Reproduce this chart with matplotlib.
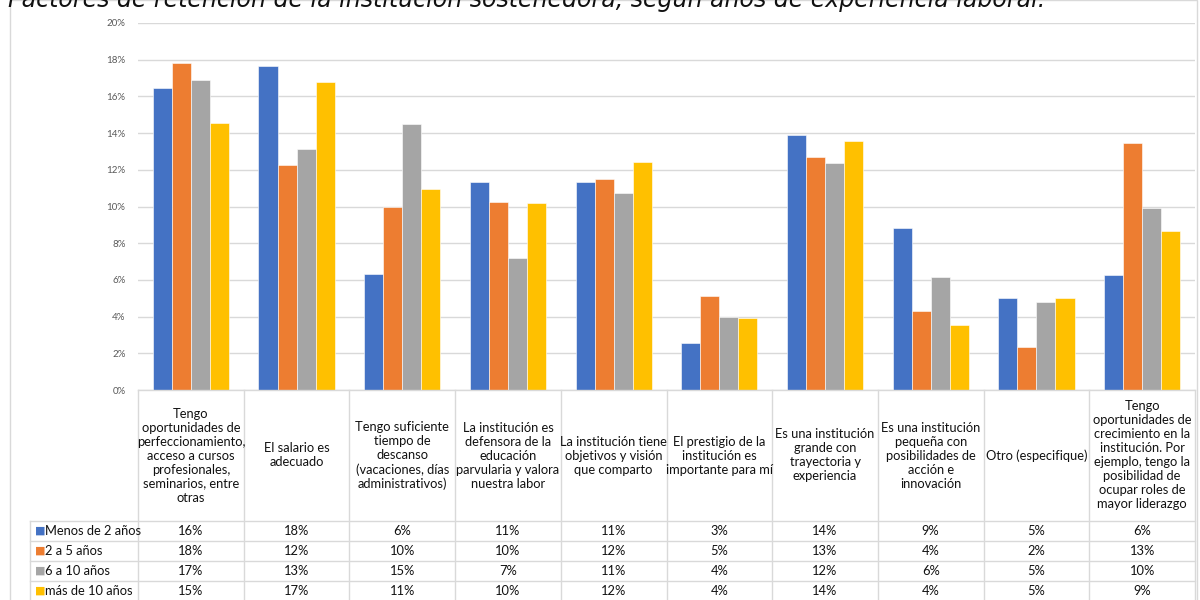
import matplotlib
matplotlib.use("Agg")
import matplotlib.pyplot as plt
from matplotlib.lines import Line2D
from matplotlib.patches import Rectangle
from matplotlib.ticker import FuncFormatter
from matplotlib.transforms import blended_transform_factory
import numpy as np

categories = [
    "Tengo\noportunidades de\nperfeccionamiento,\nacceso a cursos\nprofesionales,\nseminarios, entre\notras",
    "El salario es\nadecuado",
    "Tengo suficiente\ntiempo de\ndescanso\n(vacaciones, días\nadministrativos)",
    "La institución es\ndefensora de la\neducación\nparvularia y valora\nnuestra labor",
    "La institución tiene\nobjetivos y visión\nque comparto",
    "El prestigio de la\ninstitución es\nimportante para mí",
    "Es una institución\ngrande con\ntrayectoria y\nexperiencia",
    "Es una institución\npequeña con\nposibilidades de\nacción e\ninnovación",
    "Otro (especifique)",
    "Tengo\noportunidades de\ncrecimiento en la\ninstitución. Por\nejemplo, tengo la\nposibilidad de\nocupar roles de\nmayor liderazgo",
]
series_names = ["Menos de 2 años", "2 a 5 años", "6 a 10 años", "más de 10 años"]
menos_2 = [16.45, 17.67, 6.30, 11.35, 11.35, 2.55, 13.90, 8.84, 4.99, 6.27]
de_2_a_5 = [17.80, 12.28, 9.96, 10.25, 11.50, 5.12, 12.68, 4.30, 2.35, 13.48]
de_6_a_10 = [16.92, 13.15, 14.52, 7.20, 10.72, 3.97, 12.35, 6.14, 4.77, 9.93]
mas_10 = [14.55, 16.81, 10.98, 10.20, 12.40, 3.92, 13.55, 3.55, 4.99, 8.69]
y_ticks = [0, 2, 4, 6, 8, 10, 12, 14, 16, 18, 20]
title = "Factores de retención de la institución sostenedora, según años de experiencia laboral."

series = [menos_2, de_2_a_5, de_6_a_10, mas_10]
colors = ["#4472C4", "#ED7D31", "#A5A5A5", "#FFC000"]
grid_color = "#d9d9d9"
font = "Lato"

W, H = 1200, 600
fig = plt.figure(figsize=(W / 100, H / 100), dpi=100)


def fx(px):
    return px / W


def fy(py):
    return 1 - py / H


# chart frame
fig.add_artist(Rectangle((fx(10), fy(640)), fx(1187), 640 / H, transform=fig.transFigure,
                         fill=False, edgecolor=grid_color, linewidth=1.0))
fig.text(fx(8), fy(7), title, ha="left", va="baseline", fontsize=17,
         style="italic", family="DejaVu Sans", color="#111111")

plot_left, plot_right, plot_top, plot_bottom = 138, 1195, 23, 390
ax = fig.add_axes([fx(plot_left), fy(plot_bottom), fx(plot_right - plot_left),
                   (plot_bottom - plot_top) / H])

x = np.arange(len(categories))
bar_w = 0.18
for i, (vals, color, name) in enumerate(zip(series, colors, series_names)):
    ax.bar(x + (i - 1.5) * bar_w, vals, width=bar_w, color=color, label=name,
           edgecolor="white", linewidth=0.4, zorder=2)

ax.set_xlim(-0.5, len(categories) - 0.5)
ax.set_ylim(0, 20)
ax.set_yticks(y_ticks)
ax.yaxis.set_major_formatter(FuncFormatter(lambda v, _: f"{v:.0f}%"))
ax.tick_params(axis="y", length=0, labelsize=7, labelcolor="#595959", pad=9)
ax.tick_params(axis="x", length=0, labelbottom=False)
for lbl in ax.get_yticklabels():
    lbl.set_family(font)
ax.grid(axis="y", color=grid_color, linewidth=1.0, zorder=0)
for s in ax.spines.values():
    s.set_visible(False)

# data table under the plot
tr = blended_transform_factory(ax.transData, fig.transFigure)
px_per_cat = (plot_right - plot_left) / len(categories)
label_left = -0.5 - (plot_left - 30) / px_per_cat
header_bottom = 521
row_h = 20
table_line = dict(color=grid_color, linewidth=1.0, transform=tr, clip_on=False)

n_rows = len(series)
table_bottom = header_bottom + row_h * n_rows
for k in range(len(categories) + 1):
    fig.add_artist(Line2D([k - 0.5, k - 0.5], [fy(plot_bottom), fy(table_bottom)], **table_line))
fig.add_artist(Line2D([-0.5, len(categories) - 0.5], [fy(plot_bottom), fy(plot_bottom)], **table_line))
fig.add_artist(Line2D([label_left, label_left], [fy(header_bottom), fy(table_bottom)], **table_line))
for r in range(n_rows + 1):
    yy = fy(header_bottom + r * row_h)
    fig.add_artist(Line2D([label_left, len(categories) - 0.5], [yy, yy], **table_line))

header_mid = fy((plot_bottom + header_bottom) / 2)
for k, cat in enumerate(categories):
    fig.text(k, header_mid, cat, transform=tr, ha="center", va="center",
             fontsize=9.3, family=font, linespacing=1.2, color="#111111")

for r, (vals, color, name) in enumerate(zip(series, colors, series_names)):
    yc = fy(header_bottom + r * row_h + row_h / 2)
    fig.text(label_left + 0.05, yc, "\u25A0", transform=tr, ha="left", va="center",
             fontsize=8, color=color, family="DejaVu Sans")
    fig.text(label_left + 0.145, yc, name, transform=tr, ha="left", va="center",
             fontsize=9.3, family=font, color="#111111")
    for k, v in enumerate(vals):
        fig.text(k, yc, f"{v:.0f}%", transform=tr, ha="center", va="center",
                 fontsize=9.3, family=font, color="#111111")

fig.savefig("out.png", dpi=100)
